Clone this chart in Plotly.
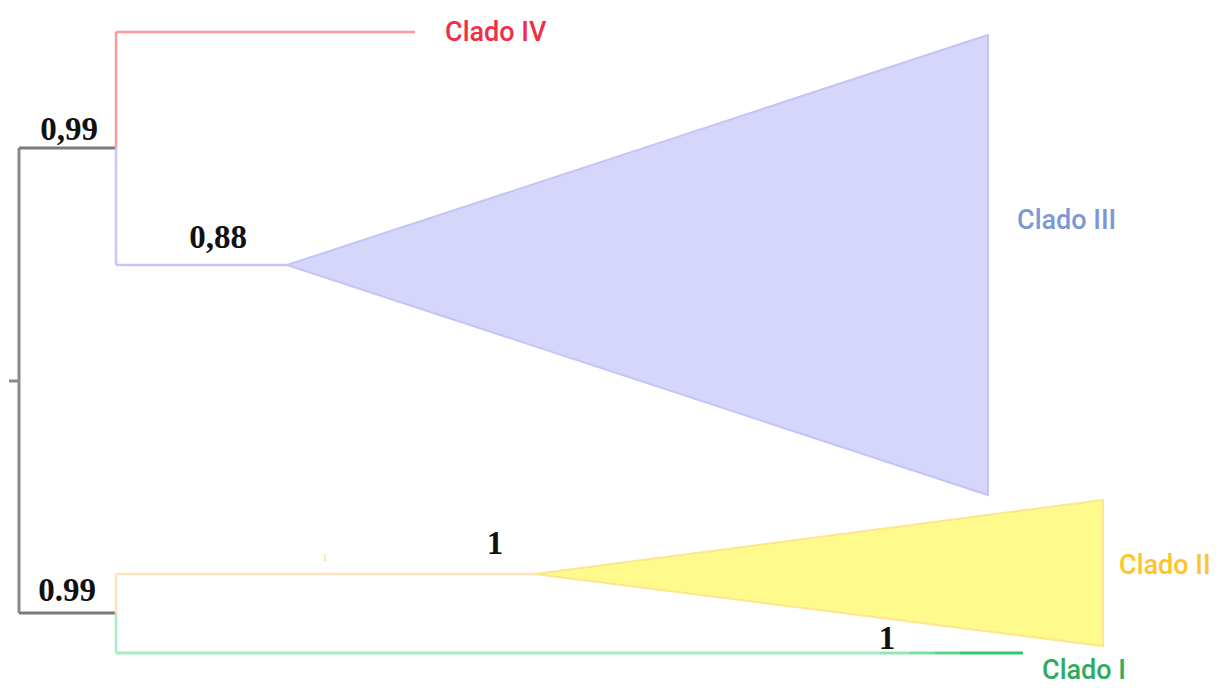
import plotly.graph_objects as go

# Tree layout (horizontal = cumulative branch depth, vertical = row position)
root_x = 19
root_stem_x = 9
root_y = 381

# internal nodes: (depth, row)
node_names = ["A", "B"]
node_x = [116, 116]
node_y = [148, 613]
node_parent_y = [148, 613]  # rows where each node joins the root bar

# clades
clades = ["Clado IV", "Clado III", "Clado II", "Clado I"]
clade_parent = [0, 0, 1, 1]
clade_row = [32, 265, 574, 653]
clade_stem_end = [415, 287, 535, 1023]     # depth where the stem ends / collapsed clade starts
clade_tri_end = [None, 988, 1103, None]     # depth of collapsed triangle tip edge
clade_tri_top = [None, 35, 500, None]
clade_tri_bot = [None, 495, 646, None]
label_x = [445, 1017, 1119, 1042]
label_y = [34, 222, 567, 672]

# posterior support values
support_text = ["0,99", "0,88", "1", "0.99", "1"]
support_x = [69, 218, 495, 67, 887]
support_y = [132, 240, 546, 593, 641]

stem_colors = ["#ff9a9a", "#c6c6f8", "#ffe2bd", "#a8ecc6"]
label_colors = ["#ee2f45", "#7d97d6", "#ffc42a", "#2eab62"]
tri_fill = [None, "rgba(214,214,250,1)", "rgba(255,250,140,1)", None]
tri_line = [None, "#c4c4f8", "#ffe58c", None]

fig = go.Figure()

def seg(xs, ys, color, width):
    fig.add_trace(go.Scatter(x=xs, y=ys, mode="lines",
                             line=dict(color=color, width=width),
                             hoverinfo="skip", showlegend=False))

# root bar and stem
seg([root_x, root_x], [node_y[0], node_y[1]], "#8a8a8a", 3)
seg([root_stem_x, root_x], [root_y, root_y], "#8a8a8a", 3)
for i in range(len(node_names)):
    seg([root_x, node_x[i]], [node_parent_y[i], node_parent_y[i]], "#7a7a7a", 3)

# clades: vertical connector, stem and collapsed triangle
for i, name in enumerate(clades):
    px = node_x[clade_parent[i]]
    py = node_y[clade_parent[i]]
    seg([px, px], [py, clade_row[i]], stem_colors[i], 2.5)
    if clade_tri_end[i] is None and i == 3:
        # terminal branch darkening toward the tip
        x0, x1 = px, clade_stem_end[i]
        steps = [(x0, 880, "#a8ecc6"), (880, 910, "#94e6b6"), (910, 935, "#7adfa3"),
                 (935, 960, "#5cd68e"), (960, x1, "#30c873")]
        for a, b, c in steps:
            seg([a, b], [clade_row[i], clade_row[i]], c, 3)
    else:
        seg([px, clade_stem_end[i]], [clade_row[i], clade_row[i]], stem_colors[i], 2.5)
    if clade_tri_end[i] is not None:
        fig.add_trace(go.Scatter(
            x=[clade_stem_end[i], clade_tri_end[i], clade_tri_end[i], clade_stem_end[i]],
            y=[clade_row[i], clade_tri_top[i], clade_tri_bot[i], clade_row[i]],
            mode="lines", fill="toself", fillcolor=tri_fill[i],
            line=dict(color=tri_line[i], width=2),
            hoverinfo="skip", showlegend=False))

# clade labels
fig.add_trace(go.Scatter(
    x=label_x, y=label_y, mode="text", text=clades,
    textposition="middle right",
    textfont=dict(family="Roboto", size=27, color=label_colors, weight=500),
    hoverinfo="skip", showlegend=False))

# support values
fig.add_trace(go.Scatter(
    x=support_x, y=support_y, mode="text", text=support_text,
    textposition="middle center",
    textfont=dict(family="Liberation Serif", size=33, color="#111111", weight="bold"),
    hoverinfo="skip", showlegend=False))

# faint support mark on the Clado II stem
fig.add_trace(go.Scatter(
    x=[325], y=[558], mode="text", text=["1"],
    textfont=dict(family="Liberation Serif", size=11, color="#ffd49a"),
    hoverinfo="skip", showlegend=False))

fig.update_layout(
    width=1220, height=688,
    margin=dict(l=0, r=0, t=0, b=0),
    paper_bgcolor="white", plot_bgcolor="white",
    xaxis=dict(range=[0, 1220], visible=False, fixedrange=True),
    yaxis=dict(range=[688, 0], visible=False, fixedrange=True),
)

fig.write_html("out.html")
